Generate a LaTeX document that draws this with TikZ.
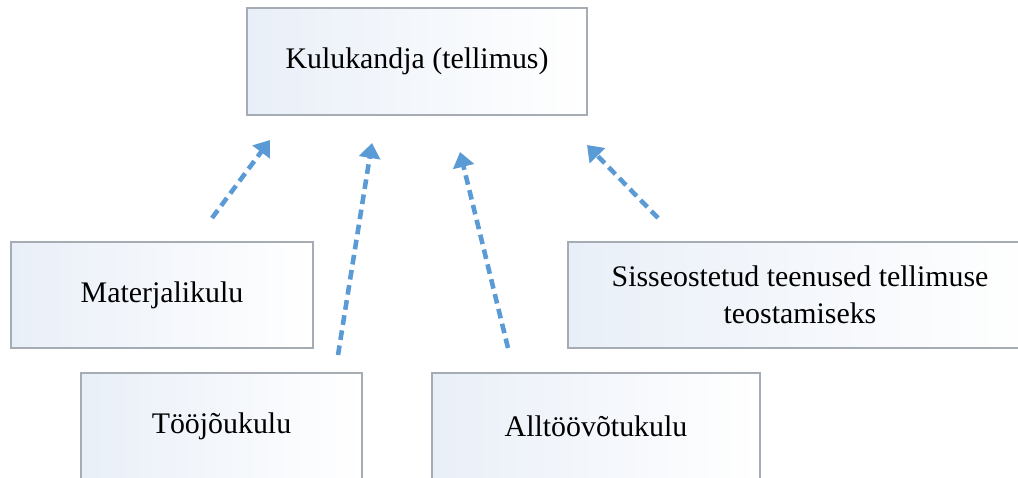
\documentclass[tikz,border=0pt]{standalone}
\usepackage{fontspec}
\setmainfont{Liberation Serif}
\usetikzlibrary{positioning, arrows.meta}
\definecolor{arrowblue}{RGB}{91,155,213}
\definecolor{boxline}{RGB}{166,172,180}
\definecolor{boxtint}{RGB}{233,239,248}

\begin{document}
\begin{tikzpicture}[
      costbox/.style={draw=boxline, line width=0.7pt, left color=boxtint,
        right color=white, align=center, inner sep=0pt,
        font=\fontsize{17}{21}\selectfont},
      flowarrow/.style={draw=arrowblue, line width=2.6pt,
        dash pattern=on 5.5pt off 3.2pt,
        -{Triangle[length=0.3cm, width=0.42cm, fill=arrowblue]}},
      >={Latex}]
    \useasboundingbox (0,0) rectangle (20.36,-9.56);
    \clip (0,0) rectangle (20.36,-9.56);
    \node[costbox, minimum width=6.8cm, minimum height=2.14cm] (kulu)
      at (8.34,-1.23) {Kulukandja (tellimus)};
    \node[costbox, minimum width=6.04cm, minimum height=2.12cm] (mat)
      at (3.24,-5.9) {Materjalikulu};
    \node[costbox, minimum width=9.28cm, minimum height=2.12cm] (sisse)
      at (16.0,-5.9) {Sisseostetud teenused tellimuse\\teostamiseks};
    \node[costbox, minimum width=5.62cm, minimum height=2.12cm] (too)
      at (4.43,-8.52) {Tööjõukulu};
    \node[costbox, minimum width=6.56cm, minimum height=2.12cm] (all)
      at (11.92,-8.52) {Alltöövõtukulu};
    % arrow ends, free between the boxes
    \coordinate (matA) at (4.24,-4.36);   \coordinate (matB) at (5.4,-2.8);
    \coordinate (tooA) at (6.76,-7.1);    \coordinate (tooB) at (7.44,-2.86);
    \coordinate (allA) at (10.16,-6.96);  \coordinate (allB) at (9.2,-3.04);
    \coordinate (sisA) at (13.16,-4.36);  \coordinate (sisB) at (11.74,-2.9);
    \foreach \a/\b in {matA/matB, tooA/tooB, allA/allB, sisA/sisB} {
      \draw[flowarrow] (\a) -- (\b);
    }
  \end{tikzpicture}
\end{document}
